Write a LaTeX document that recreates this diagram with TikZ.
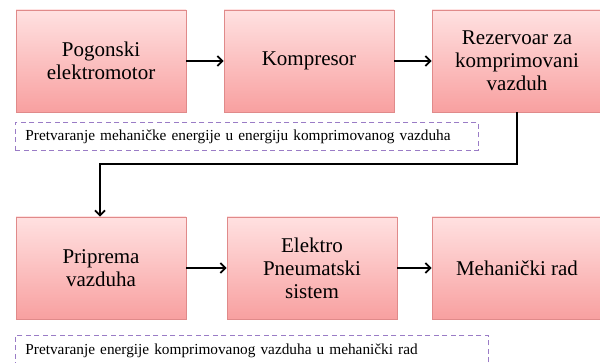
\documentclass[tikz,border=0pt]{standalone}
\usepackage{fontspec}
\setmainfont{Liberation Serif}
\newfontfamily\labelserif{Liberation Serif}
\usetikzlibrary{arrows.meta,shadows}
\definecolor{boxtop}{HTML}{FFE1E1}
\definecolor{boxbot}{HTML}{F8A0A0}
\definecolor{boxedge}{HTML}{E08A8A}
\definecolor{notecol}{HTML}{9A7CC6}
\begin{document}
\begin{tikzpicture}[x=1pt,y=-1pt,
  stage/.style={draw=boxedge, line width=0.8pt, top color=boxtop, bottom color=boxbot,
    minimum width=170pt, minimum height=102pt, inner sep=0pt, align=center,
    font=\labelserif\fontsize{21}{23}\selectfont,
    drop shadow={shadow xshift=1.2pt, shadow yshift=-1.5pt, opacity=0.25}},
  note/.style={draw=notecol, line width=0.9pt, dash pattern=on 5pt off 3.5pt,
    inner xsep=10pt, inner ysep=0pt, anchor=north west,
    align=left, font=\labelserif\fontsize{15.3}{18}\selectfont},
  flow/.style={line width=1.8pt, -{Straight Barb[length=5pt,width=10pt,line width=1.8pt]}}]
\useasboundingbox (0,0) rectangle (600,363);
% top row
\node[stage] (motor) at (101,61) {Pogonski\\elektromotor};
\node[stage] (komp)  at (309,61) {Kompresor};
\node[stage] (rez)   at (517,61) {Rezervoar za\\komprimovani\\vazduh};
% bottom row
\node[stage] (prip)  at (101,268) {Priprema\\vazduha};
\node[stage] (eps)   at (312,268) {Elektro\\Pneumatski\\sistem};
\node[stage] (rad)   at (517,268) {Mehanički rad};
% connectors
\draw[flow] (motor.east) -- (komp.west);
\draw[flow] (komp.east) -- (rez.west);
\coordinate (turnA) at (517,164);
\coordinate (turnB) at (100,164);
\draw[flow] (rez.south) -- (turnA) -- (turnB) -- (prip.north -| turnB);
\draw[flow] (prip.east) -- (eps.west);
\draw[flow] (eps.east) -- (rad.west);
% annotation frames
\node[note, text width=443pt, minimum height=28pt] (noteA) at (15,122)
  {Pretvaranje mehaničke energije u energiju komprimovanog vazduha};
\node[note, text width=453pt, minimum height=30pt] (noteB) at (15,335)
  {Pretvaranje energije komprimovanog vazduha u mehanički rad};
\end{tikzpicture}
\end{document}
